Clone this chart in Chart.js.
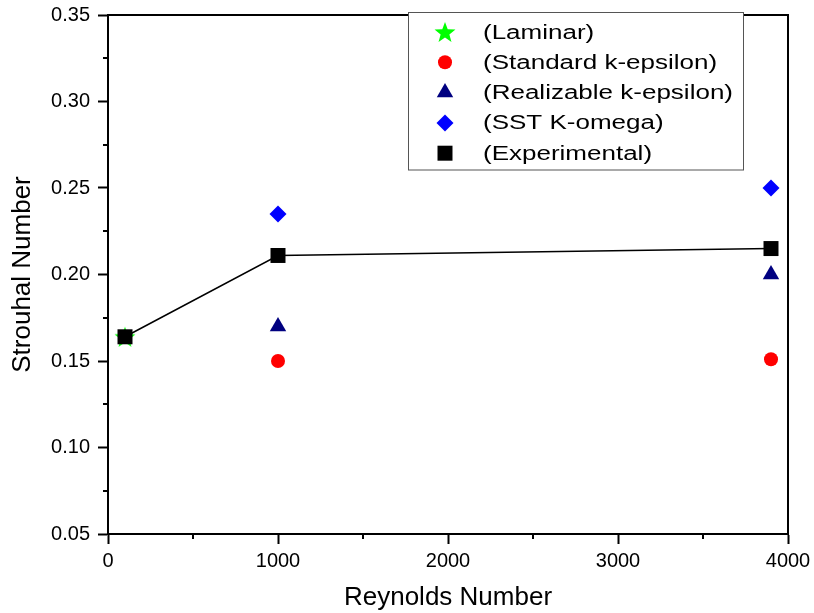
<!DOCTYPE html>
<html>
<head>
<meta charset="utf-8">
<script src="https://cdn.jsdelivr.net/npm/chart.js@4/dist/chart.umd.min.js"></script>
<style>
html,body{margin:0;padding:0;background:#fff;}
#c{display:block;}
</style>
</head>
<body>
<canvas id="c" width="814" height="613"></canvas>
<script>
// ---- data ----
const laminarRe = [100];
const laminarSt = [0.164];
const standardRe = [1000, 3900];
const standardSt = [0.150, 0.151];
const realizableRe = [1000, 3900];
const realizableSt = [0.170, 0.200];
const sstRe = [1000, 3900];
const sstSt = [0.235, 0.250];
const expRe = [100, 1000, 3900];
const expSt = [0.164, 0.211, 0.215];
const seriesLabels = ['(Laminar)', '(Standard k-epsilon)', '(Realizable k-epsilon)', '(SST K-omega)', '(Experimental)'];
const xTicks = [0, 1000, 2000, 3000, 4000];
const yTicks = [0.05, 0.10, 0.15, 0.20, 0.25, 0.30, 0.35];

const FONT = '"Liberation Sans", Arial, Helvetica, sans-serif';
Chart.defaults.font.family = FONT;
Chart.defaults.color = '#000';

function pts(xs, ys){ return xs.map((x,i)=>({x:x, y:ys[i]})); }

// green five-point star image
function makeStar(R, r, color){
  const s = Math.ceil(R*2)+2;
  const cv = document.createElement('canvas');
  cv.width = s; cv.height = s;
  const g = cv.getContext('2d');
  const cx = s/2, cy = s/2 + 1;
  g.beginPath();
  for (let i=0;i<10;i++){
    const rad = (i%2===0)?R:r;
    const a = -Math.PI/2 + i*Math.PI/5;
    const px = cx + rad*Math.cos(a), py = cy + rad*Math.sin(a);
    if(i===0) g.moveTo(px,py); else g.lineTo(px,py);
  }
  g.closePath();
  g.fillStyle = color;
  g.fill();
  return cv;
}
const starImg = makeStar(11, 4.6, '#00ff00');

const datasets = [
  {label: seriesLabels[0], data: pts(laminarRe, laminarSt), pointStyle: starImg, pointRadius: 11,
   backgroundColor:'#00ff00', borderColor:'#00ff00', pointBorderWidth:0, showLine:false, order: 1},
  {label: seriesLabels[1], data: pts(standardRe, standardSt), pointStyle: 'circle', pointRadius: 7,
   backgroundColor:'#ff0000', borderColor:'#ff0000', pointBorderWidth:0, showLine:false, order: 1},
  {label: seriesLabels[2], data: pts(realizableRe, realizableSt), pointStyle: 'triangle', pointRadius: 9.5,
   backgroundColor:'#000080', borderColor:'#000080', pointBorderWidth:0, showLine:false, order: 1},
  {label: seriesLabels[3], data: pts(sstRe, sstSt), pointStyle: 'rectRot', pointRadius: 8.5,
   backgroundColor:'#0000ff', borderColor:'#0000ff', pointBorderWidth:0, showLine:false, order: 1},
  {label: seriesLabels[4], data: pts(expRe, expSt), pointStyle: 'rect', pointRadius: 10.6,
   backgroundColor:'#000000', borderColor:'#000000', pointBackgroundColor:'#000', pointBorderWidth:0,
   showLine:true, borderWidth:1.5, tension:0, order: -1}
];

function symbol(ctx, style, radius, x, y, color){
  ctx.save();
  ctx.fillStyle = color;
  ctx.strokeStyle = color;
  if (Chart.helpers && Chart.helpers.drawPoint){
    Chart.helpers.drawPoint(ctx, {pointStyle: style, radius: radius, rotation: 0, borderWidth: 0}, x, y);
  }
  ctx.restore();
}

const framePlugin = {
  id: 'frame',
  afterDatasetsDraw(chart){
    const ctx = chart.ctx, a = chart.chartArea;
    const xs = chart.scales.x, ys = chart.scales.y;
    ctx.save();
    ctx.strokeStyle = '#000';
    ctx.lineWidth = 2;
    ctx.beginPath();
    ctx.moveTo(a.left - 1, a.top);
    ctx.lineTo(a.right, a.top);
    ctx.lineTo(a.right, a.bottom);
    ctx.stroke();
    // minor ticks
    ctx.beginPath();
    for (let v = 500; v < 4000; v += 1000){
      const px = Math.round(xs.getPixelForValue(v));
      ctx.moveTo(px, a.bottom); ctx.lineTo(px, a.bottom + 5);
    }
    for (let k = 0; k < 6; k++){
      const v = 0.075 + k*0.05;
      const py = Math.round(ys.getPixelForValue(v));
      ctx.moveTo(a.left, py); ctx.lineTo(a.left - 5, py);
    }
    ctx.stroke();
    ctx.restore();
  },
  afterDraw(chart){
    const ctx = chart.ctx;
    const bx = 408.5, by = 12.5, bw = 335, bh = 157.5;
    ctx.save();
    ctx.fillStyle = '#fff';
    ctx.fillRect(bx, by, bw, bh);
    ctx.strokeStyle = '#555';
    ctx.lineWidth = 1;
    ctx.strokeRect(bx, by, bw, bh);
    const rowY0 = 32, dy = 30.3;
    chart.data.datasets.forEach((ds, i) => {
      const yy = rowY0 + i*dy;
      symbol(ctx, ds.pointStyle, ds.pointRadius, 445, yy, ds.backgroundColor);
      ctx.save();
      ctx.translate(483, yy);
      ctx.scale(1.3, 1);
      ctx.fillStyle = '#000';
      ctx.font = '20px ' + FONT;
      ctx.textBaseline = 'middle';
      ctx.textAlign = 'left';
      ctx.fillText(ds.label, 0, 1);
      ctx.restore();
    });
    ctx.restore();
  }
};

new Chart(document.getElementById('c'), {
  type: 'scatter',
  data: { datasets },
  options: {
    responsive: false,
    animation: false,
    devicePixelRatio: 1,
    layout: { padding: { left: 0, right: 26, top: 15, bottom: 0 } },
    plugins: { legend: { display: false }, tooltip: { enabled: false } },
    scales: {
      x: {
        type: 'linear', min: 0, max: 4000,
        afterFit(s){ s.height = 79; s.paddingLeft = 0; s.paddingRight = 0; },
        afterBuildTicks(s){ s.ticks = xTicks.map(v => ({value: v})); },
        ticks: { stepSize: 1000, font: { size: 20 }, color: '#000', padding: 5, maxRotation: 0,
                 callback: v => String(v) },
        grid: { display: true, drawOnChartArea: false, drawTicks: true, tickLength: 10, tickColor: '#000', tickWidth: 2 },
        border: { display: true, color: '#000', width: 2 },
        title: { display: true, text: 'Reynolds Number', font: { size: 26 }, color: '#000', padding: { top: 0, bottom: 0 } }
      },
      y: {
        type: 'linear', min: 0.05, max: 0.35,
        afterFit(s){ s.width = 108; s.paddingTop = 0; s.paddingBottom = 0; },
        afterBuildTicks(s){ s.ticks = yTicks.map(v => ({value: v})); },
        ticks: { stepSize: 0.05, font: { size: 20 }, color: '#000', padding: 8,
                 callback: v => Number(v).toFixed(2) },
        grid: { display: true, drawOnChartArea: false, drawTicks: true, tickLength: 10, tickColor: '#000', tickWidth: 2 },
        border: { display: true, color: '#000', width: 2 },
        title: { display: true, text: 'Strouhal Number', font: { size: 26 }, color: '#000', padding: { top: 7, bottom: 0 } }
      }
    }
  },
  plugins: [framePlugin]
});
</script>
</body>
</html>
